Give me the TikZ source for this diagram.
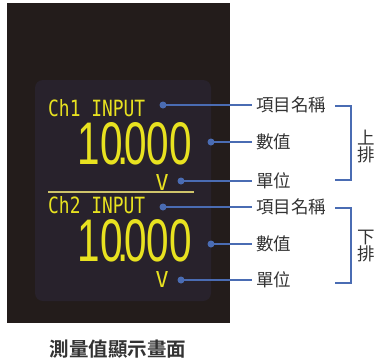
\documentclass[tikz,border=0pt]{standalone}
\usepackage{fontspec}
\newfontfamily\cjk{Noto Sans CJK TC}
\newfontfamily\cjkb{Noto Sans CJK TC Bold}
\newfontfamily\lcd{DejaVu Sans Mono}
\newfontfamily\lcdnum{Liberation Sans}
\definecolor{panel}{HTML}{231C1B}
\definecolor{screen}{HTML}{28222C}
\definecolor{lcdy}{HTML}{E8E220}
\definecolor{sepy}{HTML}{CFC46A}
\definecolor{callout}{HTML}{4A6CB3}
\definecolor{txt}{HTML}{333333}
\newcommand{\bignum}{\resizebox{114pt}{42pt}{\lcdnum 10\kern-0.12em.\kern-0.12em000}}
\tikzset{
  lbl/.style={anchor=west, inner sep=0pt, font=\cjk\fontsize{17.5}{18}\selectfont, text=txt},
  side/.style={anchor=west, inner sep=0pt, font=\cjk\fontsize{17.5}{18}\selectfont, text=txt, align=left},
  lcdtext/.style={inner sep=0pt, text=lcdy},
  dotc/.style={circle, fill=callout, inner sep=0pt, minimum size=7pt},
  lead/.style={draw=callout, line width=2pt},
  brk/.style={draw=callout, line width=2pt}
}
\begin{document}
\begin{tikzpicture}[x=1pt,y=-1pt]
\useasboundingbox (0,0) rectangle (375,362);
\fill[white] (0,0) rectangle (375,362);
% panel
\fill[panel] (7,3) rectangle (230,323);
\fill[screen, rounded corners=8pt] (35,80) rectangle (211,301);
% LCD content
\node[lcdtext, anchor=west] (ch1) at (48,108) {\resizebox{97pt}{17pt}{\lcd Ch1 INPUT}};
\node[lcdtext, anchor=east] (v1num) at (192,144) {\bignum};
\node[lcdtext] (u1) at (162,182) {\resizebox{13pt}{16pt}{\lcd V}};
\draw[sepy, line width=2pt] (48,192) -- (194,192);
\node[lcdtext, anchor=west] (ch2) at (48,205) {\resizebox{97pt}{17pt}{\lcd Ch2 INPUT}};
\node[lcdtext, anchor=east] (v2num) at (192,241) {\bignum};
\node[lcdtext] (u2) at (162,279) {\resizebox{13pt}{16pt}{\lcd V}};
% dots
\node[dotc] (d1) at (163,105) {};
\node[dotc] (d2) at (211,142) {};
\node[dotc] (d3) at (181,181) {};
\node[dotc] (d4) at (163,207) {};
\node[dotc] (d5) at (211,244) {};
\node[dotc] (d6) at (181,280) {};
% labels
\node[lbl] (l1) at (256,105) {項目名稱};
\node[lbl] (l2) at (256,142) {數值};
\node[lbl] (l3) at (256,181) {單位};
\node[lbl] (l4) at (256,207) {項目名稱};
\node[lbl] (l5) at (256,244) {數值};
\node[lbl] (l6) at (256,280) {單位};
% leaders
\foreach \d/\l in {d1/l1,d2/l2,d3/l3,d4/l4,d5/l5,d6/l6}
  \draw[lead] (\d.center) -- ([xshift=-4pt]\l.west);
% brackets
\coordinate (b1a) at (335,106);
\coordinate (b1b) at (335,180);
\coordinate (b2a) at (335,208);
\coordinate (b2b) at (335,283);
\draw[brk] (b1a) -- ++(16,0) |- (b1b);
\draw[brk] (b2a) -- ++(16,0) |- (b2b);
\node[side] (up) at (357,146) {上\\[-1pt]排};
\node[side] (dn) at (357,246) {下\\[-1pt]排};
% caption
\node[inner sep=0pt, font=\cjkb\fontsize{19.5}{20}\selectfont, text=txt] (cap) at (118,349) {測量值顯示畫面};
\end{tikzpicture}
\end{document}
